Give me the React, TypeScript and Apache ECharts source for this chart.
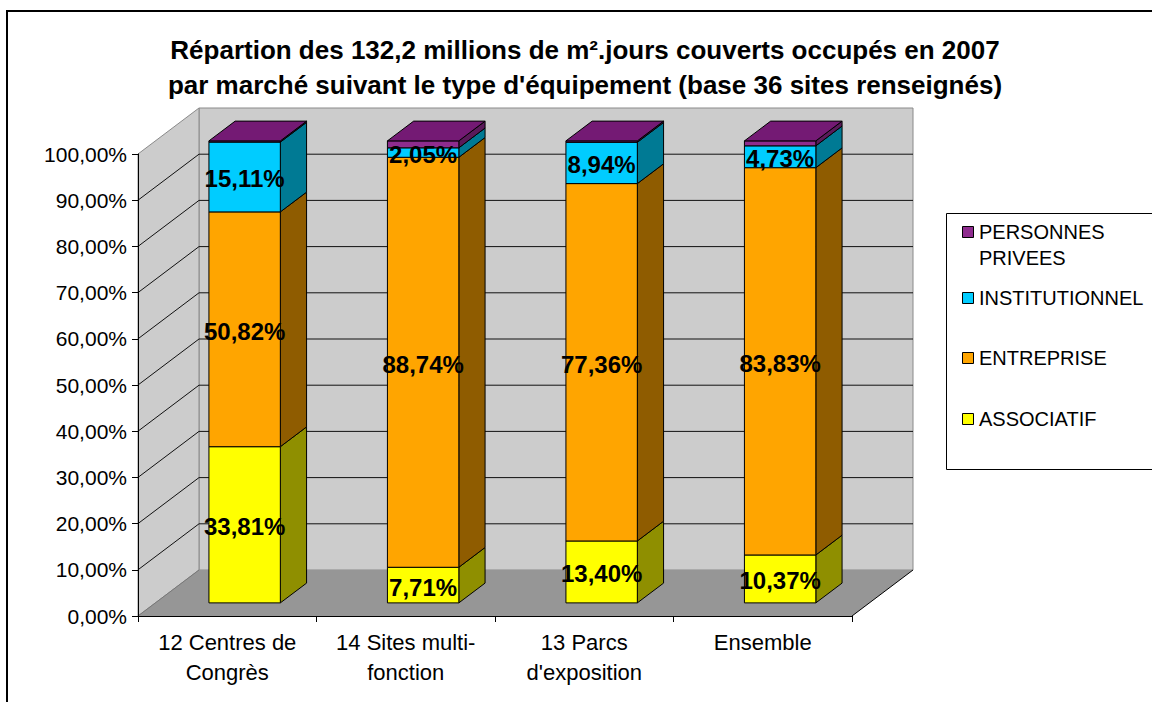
import React, { useEffect, useRef } from "react";
import * as echarts from "echarts";

// ---------- data ----------
const TITLE_LINES = [
  "Répartion des 132,2 millions de m².jours couverts occupés en 2007",
  "par marché suivant le type d'équipement (base 36 sites renseignés)",
];
const CATEGORIES = [
  "12 Centres de\nCongrès",
  "14 Sites multi-\nfonction",
  "13 Parcs\nd'exposition",
  "Ensemble",
];
const SERIES_NAMES = ["ASSOCIATIF", "ENTREPRISE", "INSTITUTIONNEL", "PERSONNES PRIVEES"];
const ASSOCIATIF = [33.81, 7.71, 13.4, 10.37];
const ENTREPRISE = [50.82, 88.74, 77.36, 83.83];
const INSTITUTIONNEL = [15.11, 2.05, 8.94, 4.73];
const PERSONNES_PRIVEES = [0.26, 1.5, 0.3, 1.07];
const Y_TICKS = [0, 10, 20, 30, 40, 50, 60, 70, 80, 90, 100];
const LABELLED = [true, true, true, false];

// ---------- styles / layout ----------
const FONT = '"Liberation Sans", Arial, Helvetica, sans-serif';
const FRONT = ["#FFFF00", "#FFA500", "#00CCFF", "#8E2C8E"];
const SIDE = ["#8F8F00", "#8F5C00", "#007A94", "#5A1A5A"];
const TOP = ["#C0C000", "#C07C00", "#0099C0", "#741A74"];
const DX = 61; // depth offset of the walls
const DY = -46;
const F1 = 0.285; // bar front depth fraction
const F2 = 0.715; // bar back depth fraction
const HALF = 0.2; // half bar width as fraction of band
const LEGEND_Y = [232, 298, 358, 419];

const VALUES = [ASSOCIATIF, ENTREPRISE, INSTITUTIONNEL, PERSONNES_PRIVEES];

function fmt(v: number) {
  return v.toFixed(2).replace(".", ",") + "%";
}

export default function App() {
  const ref = useRef<HTMLDivElement>(null);

  useEffect(() => {
    document.body.style.margin = "0";
    const chart = echarts.init(ref.current!, null, { renderer: "svg" });

    const bases = VALUES.map((_, s) =>
      CATEGORIES.map((__, i) => {
        let b = 0;
        for (let k = 0; k < s; k++) b += VALUES[k][i];
        return b;
      })
    );

    const wallsSeries: any = {
      type: "custom",
      name: "walls",
      silent: true,
      z: 1,
      clip: false,
      data: [[0, 0]],
      encode: { x: 0, y: 1 },
      renderItem: (params: any, api: any) => {
        const cs = params.coordSys;
        const x0 = cs.x;
        const y0 = cs.y;
        const w = cs.width;
        const h = cs.height;
        const children: any[] = [];
        // back wall
        children.push({
          type: "polygon",
          shape: {
            points: [
              [x0 + DX, y0 + DY],
              [x0 + w + DX, y0 + DY],
              [x0 + w + DX, y0 + h + DY],
              [x0 + DX, y0 + h + DY],
            ],
          },
          style: { fill: "#CCCCCC", stroke: "#8A8A8A", lineWidth: 1 },
        });
        // left wall
        children.push({
          type: "polygon",
          shape: {
            points: [
              [x0, y0],
              [x0 + DX, y0 + DY],
              [x0 + DX, y0 + h + DY],
              [x0, y0 + h],
            ],
          },
          style: { fill: "#CCCCCC", stroke: "#8A8A8A", lineWidth: 1 },
        });
        // gridlines
        Y_TICKS.forEach((v) => {
          if (v === 0 || v === 100) return;
          const py = api.coord([0, v])[1];
          children.push({
            type: "line",
            shape: { x1: x0 + DX, y1: py + DY, x2: x0 + w + DX, y2: py + DY },
            style: { stroke: "#111", lineWidth: 1 },
          });
          children.push({
            type: "line",
            shape: { x1: x0, y1: py, x2: x0 + DX, y2: py + DY },
            style: { stroke: "#111", lineWidth: 1 },
          });
        });
        // floor
        children.push({
          type: "polygon",
          shape: {
            points: [
              [x0, y0 + h],
              [x0 + w, y0 + h],
              [x0 + w + DX, y0 + h + DY],
              [x0 + DX, y0 + h + DY],
            ],
          },
          style: { fill: "#969696", stroke: "none" },
        });
        children.push({
          type: "line",
          shape: { x1: x0, y1: y0 + h, x2: x0 + DX, y2: y0 + h + DY },
          style: { stroke: "#777", lineWidth: 1 },
        });
        children.push({
          type: "line",
          shape: { x1: x0 + w, y1: y0 + h, x2: x0 + w + DX, y2: y0 + h + DY },
          style: { stroke: "#000", lineWidth: 1 },
        });
        return { type: "group", children };
      },
    };

    const barSeries: any[] = SERIES_NAMES.map((name, s) => ({
      type: "custom",
      name,
      z: 2,
      clip: false,
      encode: { x: 0, y: 1 },
      data: CATEGORIES.map((_, i) => [i, VALUES[s][i], bases[s][i]]),
      renderItem: (params: any, api: any) => {
        const i = api.value(0);
        const val = api.value(1);
        const base = api.value(2);
        const p0 = api.coord([i, base]);
        const p1 = api.coord([i, base + val]);
        const bw = api.size([1, 0])[0];
        const half = bw * HALF;
        const cx = p0[0];
        const xl = cx - half + F1 * DX;
        const xr = cx + half + F1 * DX;
        const yt = p1[1] + F1 * DY;
        const yb = p0[1] + F1 * DY;
        const ddx = (F2 - F1) * DX;
        const ddy = (F2 - F1) * DY;
        const st = { stroke: "#000", lineWidth: 1, lineJoin: "round" };
        const children: any[] = [
          {
            type: "polygon",
            shape: { points: [[xr, yt], [xr + ddx, yt + ddy], [xr + ddx, yb + ddy], [xr, yb]] },
            style: { fill: SIDE[s], ...st },
          },
          {
            type: "rect",
            shape: { x: xl, y: yt, width: xr - xl, height: yb - yt },
            style: { fill: FRONT[s], ...st },
          },
        ];
        if (s === SERIES_NAMES.length - 1) {
          children.push({
            type: "polygon",
            shape: { points: [[xl, yt], [xl + ddx, yt + ddy], [xr + ddx, yt + ddy], [xr, yt]] },
            style: { fill: TOP[s], ...st },
          });
        }
        return { type: "group", children };
      },
    }));

    const labelData: any[] = [];
    SERIES_NAMES.forEach((_, s) => {
      if (!LABELLED[s]) return;
      CATEGORIES.forEach((__, i) => labelData.push([i, VALUES[s][i], bases[s][i]]));
    });

    const labelSeries: any = {
      type: "custom",
      name: "labels",
      z: 3,
      silent: true,
      clip: false,
      encode: { x: 0, y: 1 },
      data: labelData,
      renderItem: (params: any, api: any) => {
        const i = api.value(0);
        const val = api.value(1);
        const base = api.value(2);
        const p0 = api.coord([i, base]);
        const p1 = api.coord([i, base + val]);
        return {
          type: "text",
          x: p0[0] + F1 * DX,
          y: (p0[1] + p1[1]) / 2 + F1 * DY + 2,
          style: {
            text: fmt(val),
            fill: "#000",
            fontSize: 24,
            fontWeight: "bold",
            fontFamily: FONT,
            align: "center",
            verticalAlign: "middle",
          },
        };
      },
    };

    // legend (Excel-like box, top item first)
    const legendChildren: any[] = [];
    const order = [3, 2, 1, 0];
    order.forEach((s, k) => {
      const cy = LEGEND_Y[k];
      legendChildren.push({
        type: "rect",
        shape: { x: 962.5, y: cy - 5.5, width: 11, height: 11 },
        style: { fill: FRONT[s], stroke: "#000", lineWidth: 1 },
      });
      legendChildren.push({
        type: "text",
        x: 979,
        y: cy - 13,
        style: {
          text: SERIES_NAMES[s],
          width: 172,
          overflow: "break",
          fontSize: 20,
          lineHeight: 26,
          fontFamily: FONT,
          fill: "#000",
          align: "left",
          verticalAlign: "top",
        },
      });
    });

    const option: any = {
      animation: false,
      backgroundColor: "#fff",
      title: {
        text: TITLE_LINES.join("\n"),
        left: 585,
        top: 32,
        padding: 0,
        textAlign: "center",
        textStyle: {
          fontFamily: FONT,
          fontSize: 26,
          fontWeight: "bold",
          lineHeight: 35,
          color: "#000",
        },
      },
      grid: { left: 138, top: 154, width: 714, height: 462, containLabel: false },
      xAxis: {
        type: "category",
        data: CATEGORIES,
        z: 5,
        axisLine: { show: true, lineStyle: { color: "#000", width: 1 } },
        axisTick: { show: true, length: 6, lineStyle: { color: "#000" } },
        axisLabel: {
          interval: 0,
          color: "#000",
          fontFamily: FONT,
          fontSize: 22,
          lineHeight: 30,
          margin: 11,
        },
        splitLine: { show: false },
      },
      yAxis: {
        type: "value",
        min: 0,
        max: 100,
        interval: 10,
        z: 5,
        axisLine: { show: true, lineStyle: { color: "#000", width: 1 } },
        axisTick: { show: true, length: 6, lineStyle: { color: "#000" } },
        axisLabel: {
          color: "#000",
          fontFamily: FONT,
          fontSize: 21,
          margin: 11,
          formatter: (v: number) => fmt(v),
        },
        splitLine: { show: false },
      },
      graphic: [
        {
          type: "rect",
          shape: { x: 7, y: 11, width: 1300, height: 900 },
          style: { fill: "none", stroke: "#000", lineWidth: 2 },
          silent: true,
        },
        {
          type: "rect",
          shape: { x: 946.5, y: 213.5, width: 300, height: 256 },
          style: { fill: "none", stroke: "#000", lineWidth: 1 },
          silent: true,
        },
        { type: "group", children: legendChildren },
      ],
      series: [wallsSeries, ...barSeries, labelSeries],
    };

    chart.setOption(option);
    return () => chart.dispose();
  }, []);

  return (
    <div
      ref={ref}
      style={{ position: "absolute", left: 0, top: 0, width: 1152, height: 702 }}
    />
  );
}
